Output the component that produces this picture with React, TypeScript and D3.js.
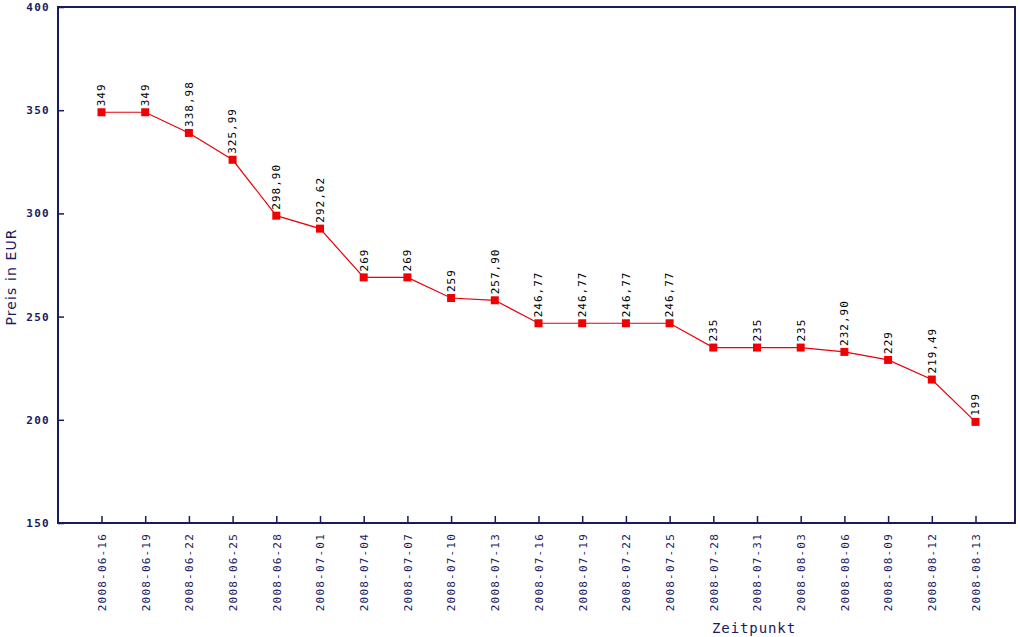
import React, { useRef, useEffect } from 'react';
import * as d3 from 'd3';

// Preisverlauf
const dates = [
  '2008-06-16', '2008-06-19', '2008-06-22', '2008-06-25', '2008-06-28', '2008-07-01',
  '2008-07-04', '2008-07-07', '2008-07-10', '2008-07-13', '2008-07-16', '2008-07-19',
  '2008-07-22', '2008-07-25', '2008-07-28', '2008-07-31', '2008-08-03', '2008-08-06',
  '2008-08-09', '2008-08-12', '2008-08-13',
];
const prices = [
  349, 349, 338.98, 325.99, 298.90, 292.62, 269, 269, 259, 257.90, 246.77, 246.77,
  246.77, 246.77, 235, 235, 235, 232.90, 229, 219.49, 199,
];
const priceLabels = [
  '349', '349', '338,98', '325,99', '298,90', '292,62', '269', '269', '259', '257,90',
  '246,77', '246,77', '246,77', '246,77', '235', '235', '235', '232,90', '229', '219,49', '199',
];
const yTicks = [150, 200, 250, 300, 350, 400];

const App = () => {
  const ref = useRef<SVGSVGElement>(null);

  useEffect(() => {
    const width = 1020;
    const height = 637;
    const left = 58, right = 1015, top = 7, bottom = 523;
    const navy = '#1a1a5e';
    const mono = '"DejaVu Sans Mono", monospace';

    const svg = d3.select(ref.current)
      .attr('width', width)
      .attr('height', height);
    svg.selectAll('*').remove();

    svg.append('rect').attr('width', width).attr('height', height).attr('fill', '#fff');

    const x = d3.scalePoint<string>()
      .domain(dates)
      .range([left + 43.5, right - 39.5]);
    const y = d3.scaleLinear().domain([150, 400]).range([bottom, top]);

    // frame
    svg.append('rect')
      .attr('x', left).attr('y', top)
      .attr('width', right - left).attr('height', bottom - top)
      .attr('fill', 'none')
      .attr('stroke', navy)
      .attr('stroke-width', 2);

    // y axis
    const yAxis = svg.append('g')
      .attr('transform', `translate(${left},0)`)
      .call(d3.axisRight(y).tickValues(yTicks).tickSize(6).tickFormat(d3.format('d')));
    yAxis.select('.domain').remove();
    yAxis.selectAll('line').attr('stroke', navy).attr('stroke-width', 1.5);
    yAxis.selectAll('text')
      .attr('x', -8)
      .attr('text-anchor', 'end')
      .attr('fill', navy)
      .attr('font-family', mono)
      .attr('font-weight', 'bold')
      .attr('font-size', 11)
      .attr('letter-spacing', 1.3);

    // x axis
    const xAxis = svg.append('g')
      .attr('transform', `translate(0,${bottom})`)
      .call(d3.axisTop(x).tickSize(7));
    xAxis.select('.domain').remove();
    xAxis.selectAll('line').attr('stroke', navy).attr('stroke-width', 1.5);
    xAxis.selectAll('text')
      .attr('transform', 'rotate(-90)')
      .attr('x', -10)
      .attr('y', 0)
      .attr('dy', '0.35em')
      .attr('text-anchor', 'end')
      .attr('fill', navy)
      .attr('font-family', mono)
      .attr('font-size', 11)
      .attr('letter-spacing', 1.2);

    // axis titles
    svg.append('text')
      .attr('transform', `translate(16,${(top + bottom) / 2 + 12}) rotate(-90)`)
      .attr('text-anchor', 'middle')
      .attr('fill', navy)
      .attr('font-family', '"DejaVu Sans", sans-serif')
      .attr('font-size', 14)
      .attr('letter-spacing', 1.1)
      .text('Preis in EUR');

    svg.append('text')
      .attr('x', 712)
      .attr('y', 633)
      .attr('fill', navy)
      .attr('font-family', mono)
      .attr('font-size', 14)
      .attr('letter-spacing', 0.9)
      .text('Zeitpunkt');

    // line
    const line = d3.line<number>()
      .x((d, i) => x(dates[i]) as number)
      .y(d => y(d));
    svg.append('path')
      .datum(prices)
      .attr('d', line)
      .attr('fill', 'none')
      .attr('stroke', '#e8000b')
      .attr('stroke-width', 1.2);

    svg.append('g')
      .selectAll('rect')
      .data(prices)
      .join('rect')
      .attr('x', (d, i) => (x(dates[i]) as number) - 4)
      .attr('y', d => y(d) - 4)
      .attr('width', 8)
      .attr('height', 8)
      .attr('fill', '#f00000');

    // value labels
    svg.append('g')
      .selectAll('text')
      .data(prices)
      .join('text')
      .attr('transform', (d, i) => `translate(${x(dates[i])},${y(d) - 6}) rotate(-90)`)
      .attr('dy', '0.35em')
      .attr('fill', '#000')
      .attr('font-family', mono)
      .attr('font-size', 11)
      .attr('letter-spacing', 1)
      .text((d, i) => priceLabels[i]);
  }, []);

  return <svg ref={ref} style={{ position: 'absolute', left: 0, top: 0, display: 'block' }} />;
};

export default App;
